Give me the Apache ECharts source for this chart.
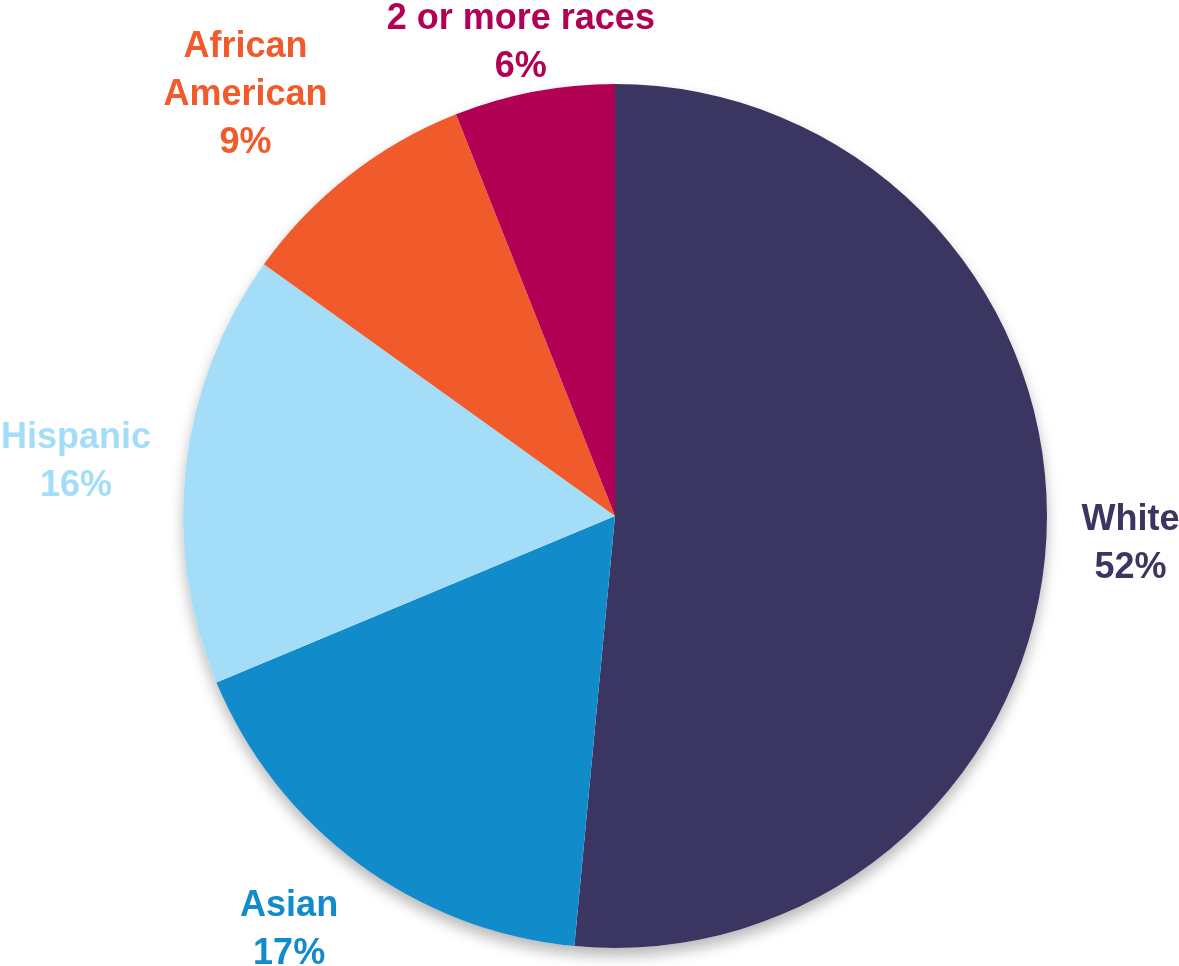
<!DOCTYPE html>
<html>
<head>
<meta charset="utf-8">
<script src="https://cdn.jsdelivr.net/npm/echarts@6/dist/echarts.min.js"></script>
<style>
html,body{margin:0;padding:0;background:#fff;}
#chart{width:1179px;height:966px;}
</style>
</head>
<body>
<div id="chart"></div>
<script>
var categories = ['White', 'Asian', 'Hispanic', 'African\nAmerican', '2 or more races'];
var values = [51.5, 17.2, 16.2, 9.1, 6.0];
var colors = ['#3B3561', '#128BCB', '#A4DDF8', '#F15B2C', '#B20055'];

var CX = 615, CY = 516, R = 432, GAP = 35, TEXT_DY = 4;
var total = values.reduce(function (a, b) { return a + b; }, 0);
var mids = [];
(function () {
  var acc = 0;
  for (var i = 0; i < values.length; i++) {
    mids.push((acc + values[i] / 2) / total * Math.PI * 2);
    acc += values[i];
  }
})();

var chart = echarts.init(document.getElementById('chart'));
var data = categories.map(function (c, i) {
  return {
    name: c,
    value: values[i],
    itemStyle: { color: colors[i] },
    label: { color: colors[i] }
  };
});

function xFactor(ux) {
  var a = Math.abs(ux);
  var f = Math.max(0, Math.min(1, (a - 0.17) / 0.35));
  return ux < 0 ? -f : f;
}

chart.setOption({
  animation: false,
  backgroundColor: '#ffffff',
  series: [
    {
      type: 'pie',
      silent: true,
      z: 1,
      center: [CX, CY],
      radius: [0, R],
      label: { show: false },
      labelLine: { show: false },
      data: [{ value: 1, itemStyle: { color: '#ffffff', shadowBlur: 14, shadowOffsetY: 8, shadowColor: 'rgba(0,0,0,0.28)' } }]
    },
    {
      type: 'pie',
      z: 2,
      center: [CX, CY],
      radius: [0, R],
      startAngle: 90,
      clockwise: true,
      avoidLabelOverlap: false,
      itemStyle: { borderWidth: 0 },
      label: {
        show: true,
        position: 'outside',
        fontFamily: 'Liberation Sans, Arial, sans-serif',
        fontWeight: 'bold',
        fontSize: 36,
        lineHeight: 48,
        align: 'center',
        formatter: function (p) {
          return p.name + '\n' + Math.round(p.percent) + '%';
        }
      },
      labelLine: { show: false },
      labelLayout: function (p) {
        var th = mids[p.dataIndex];
        var ux = Math.sin(th), uy = -Math.cos(th);
        var w = p.labelRect.width, h = p.labelRect.height;
        var px = CX + ux * (R + GAP), py = CY + uy * (R + GAP);
        var x = px + xFactor(ux) * w / 2;
        var y = py + uy * h / 2;
        var minY = h / 2 - 9;
        if (y < minY) y = minY;
        var maxY = 966 - h / 2 + 8;
        if (y > maxY) y = maxY;
        return { x: x, y: y + TEXT_DY, align: 'center', verticalAlign: 'middle' };
      },
      data: data
    }
  ]
});
</script>
</body>
</html>
